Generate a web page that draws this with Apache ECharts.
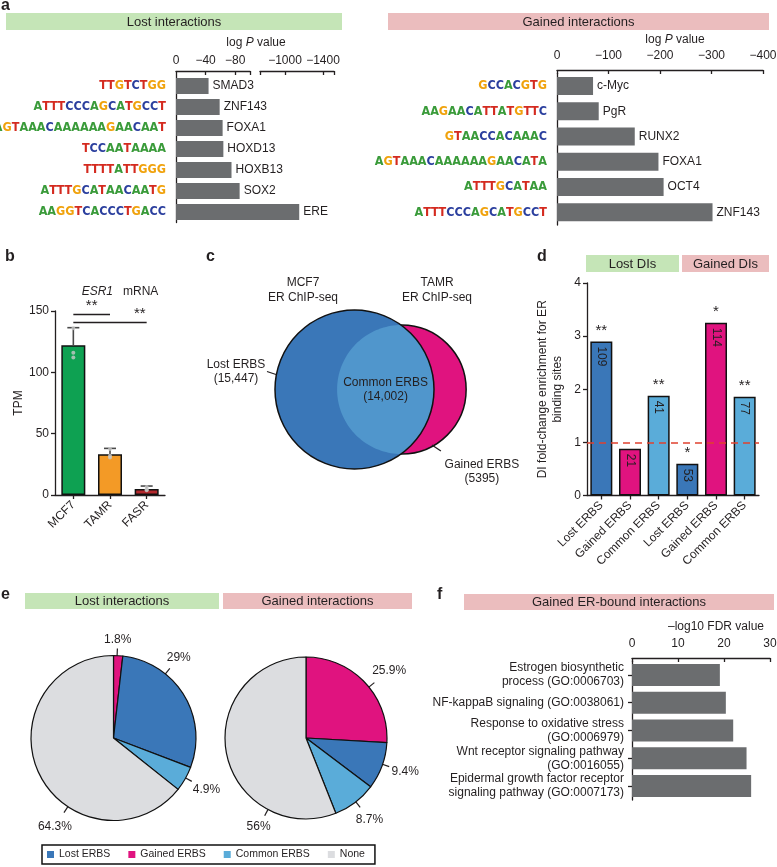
<!DOCTYPE html>
<html><head><meta charset="utf-8">
<script src="https://cdn.jsdelivr.net/npm/echarts@6/dist/echarts.min.js"></script>
<style>html,body{margin:0;padding:0;background:#fff}#c{width:777px;height:867px}</style>
</head><body><div id="c"></div>
<script>
// ================= DATA =================
// Panel a – motif enrichment (log P value)
const lostMotifs = ['SMAD3', 'ZNF143', 'FOXA1', 'HOXD13', 'HOXB13', 'SOX2', 'ERE'];
const lostLogos = ['TTGTCTGG', 'ATTTCCCAGCATGCCT', 'AGTAAACAAAAAAGAACAAT', 'TCCAATAAAA', 'TTTTATTGGG', 'ATTTGCATAACAATG', 'AAGGTCACCCTGACC'];
const lostLogP = [-44, -59, -63, -64, -75, -86, -1150];
const lostTickLabels1 = [0, -40, -80];
const lostTickLabels2 = [-1000, -1400];
const gainedMotifs = ['c-Myc', 'PgR', 'RUNX2', 'FOXA1', 'OCT4', 'ZNF143'];
const gainedLogos = ['GCCACGTG', 'AAGAACATTATGTTC', 'GTAACCACAAAC', 'AGTAAACAAAAAAGAACATA', 'ATTTGCATAA', 'ATTTCCCAGCATGCCT'];
const gainedLogP = [-70, -81, -151, -197, -207, -302];

// Panel b – ESR1 mRNA (TPM)
const cellLines = ['MCF7', 'TAMR', 'FASR'];
const esr1Mean = [122, 33.2, 4.9];
const esr1Err = [14.4, 4.8, 2.4];
const esr1Reps = [[136, 116, 112], [37.5, 32, 30.5], [6.6, 4.4, 3.8]];
const sigFrom = ['MCF7', 'MCF7'];
const sigTo = ['TAMR', 'FASR'];
const sigY = [147, 141];
const sigText = ['**', '**'];

// Panel c – Venn counts
const vennNames = ['Lost ERBS', 'Common ERBS', 'Gained ERBS'];
const vennCounts = [15447, 14002, 5395];

// Panel d – DI fold-change enrichment
const diGroups = ['Lost DIs', 'Lost DIs', 'Lost DIs', 'Gained DIs', 'Gained DIs', 'Gained DIs'];
const diErbs = ['Lost ERBS', 'Gained ERBS', 'Common ERBS', 'Lost ERBS', 'Gained ERBS', 'Common ERBS'];
const diFold = [2.9, 0.88, 1.88, 0.6, 3.25, 1.86];
const diCount = [109, 21, 41, 53, 114, 77];
const diSig = ['**', '', '**', '*', '*', '**'];

// Panel e – pies (clockwise from 12 o'clock)
const pieCats = ['Gained ERBS', 'Lost ERBS', 'Common ERBS', 'None'];
const pieLost = [1.8, 29, 4.9, 64.3];
const pieGained = [25.9, 9.4, 8.7, 56];
const legendCats = ['Lost ERBS', 'Gained ERBS', 'Common ERBS', 'None'];

// Panel f – GO terms
const goTerms = ['Estrogen biosynthetic\nprocess (GO:0006703)', 'NF-kappaB signaling (GO:0038061)', 'Response to oxidative stress\n(GO:0006979)', 'Wnt receptor signaling pathway\n(GO:0016055)', 'Epidermal growth factor receptor\nsignaling pathway (GO:0007173)'];
const goFdr = [19.1, 20.4, 22, 24.9, 25.9];

// ================= STYLE =================
const FF = '"Liberation Sans", Arial, Helvetica, sans-serif';
const INK = '#231f20';
const GREEN = '#c5e5b7', PINK = '#ebbdbe';
const GRAY = '#6b6d6f';
const ERBS_COLOR = { 'Lost ERBS': '#3a77b8', 'Gained ERBS': '#e0137f', 'Common ERBS': '#5aacd9', 'None': '#dcdde0' };
const CELL_COLOR = ['#0ea152', '#f39a26', '#b3282d'];
const LENS = '#5096cc';
const VENN = { cx: 94.5, cy: 159.5, scale: 0.4633 };
const LINE = { color: INK, width: 1.3 };
const LOGO_FONT = '"DejaVu Sans Condensed", "Liberation Sans Narrow", "Arial Narrow", sans-serif';
const LOGO_SIZE = 12.5;
const LOGO_RICH = {
  A: { color: '#3a9b3a', fontWeight: 'bold', fontSize: LOGO_SIZE, fontFamily: LOGO_FONT },
  C: { color: '#2b3f9e', fontWeight: 'bold', fontSize: LOGO_SIZE, fontFamily: LOGO_FONT },
  G: { color: '#f0a20c', fontWeight: 'bold', fontSize: LOGO_SIZE, fontFamily: LOGO_FONT },
  T: { color: '#d42a1f', fontWeight: 'bold', fontSize: LOGO_SIZE, fontFamily: LOGO_FONT }
};
// pie label tick angles (degrees clockwise from 12 o'clock), layout only
const PIE_LOST_GEOM = { center: [113.5, 738], radius: 82.5, labelAngles: [2.5, 39, 119, 213.6] };
const PIE_GAINED_GEOM = { center: [306, 738], radius: 81, labelAngles: [51, 109, 142, 208] };

const logo = s => s.split('').map(ch => '{' + ch + '|' + ch + '}').join('');
const minusFmt = v => (v === 0 ? '0' : '\u2212' + Math.abs(v));
const fmtCount = n => (n >= 10000 ? n.toLocaleString('en-US') : String(n));

function lensArea(r1, r2, d) {
  if (d >= r1 + r2) return 0;
  if (d <= Math.abs(r1 - r2)) return Math.PI * Math.min(r1, r2) ** 2;
  const t1 = r1 * r1 * Math.acos((d * d + r1 * r1 - r2 * r2) / (2 * d * r1));
  const t2 = r2 * r2 * Math.acos((d * d + r2 * r2 - r1 * r1) / (2 * d * r2));
  const t3 = 0.5 * Math.sqrt((-d + r1 + r2) * (d + r1 - r2) * (d - r1 + r2) * (d + r1 + r2));
  return t1 + t2 - t3;
}

function vennRender(params, api) {
  const lost = api.value(0), common = api.value(1), gained = api.value(2);
  const R1 = VENN.scale * Math.sqrt(lost + common);
  const R2 = VENN.scale * Math.sqrt(gained + common);
  const target = common / (lost + common) * Math.PI * R1 * R1;
  let lo = Math.abs(R1 - R2) + 1e-6, hi = R1 + R2;
  for (let i = 0; i < 80; i++) {
    const mid = (lo + hi) / 2;
    if (lensArea(R1, R2, mid) > target) lo = mid; else hi = mid;
  }
  const D = (lo + hi) / 2;
  const c1 = api.coord([VENN.cx, VENN.cy]);
  const c2 = api.coord([VENN.cx + D, VENN.cy]);
  const r1 = api.size([R1, 0])[0], r2 = api.size([R2, 0])[0];
  const dp = c2[0] - c1[0];
  const a = (dp * dp + r1 * r1 - r2 * r2) / (2 * dp);
  const h = Math.sqrt(r1 * r1 - a * a);
  const pts = [];
  const N = 80;
  const al = Math.atan2(h, a - dp);
  for (let i = 0; i <= N; i++) {
    const t = al + (2 * Math.PI - 2 * al) * i / N;
    pts.push([c2[0] + r2 * Math.cos(t), c2[1] + r2 * Math.sin(t)]);
  }
  const g = Math.atan2(-h, a);
  for (let i = 0; i <= N; i++) {
    const t = g + (-2 * g) * i / N;
    pts.push([c1[0] + r1 * Math.cos(t), c1[1] + r1 * Math.sin(t)]);
  }
  const txtStyle = (text, x, y, align) => ({ type: 'text', style: { text, x, y, align: align || 'center', verticalAlign: 'middle', fontSize: 12, lineHeight: 14, fill: INK, fontFamily: FF } });
  const lensCx = ((c2[0] - r2) + (c1[0] + r1)) / 2;
  const ang = 61 * Math.PI / 180;
  const gp = [c2[0] + r2 * Math.cos(ang), c2[1] + r2 * Math.sin(ang)];
  const lp = [c1[0] - r1, c1[1] - 15];
  return {
    type: 'group', children: [
      { type: 'circle', shape: { cx: c2[0], cy: c2[1], r: r2 }, style: { fill: ERBS_COLOR['Gained ERBS'], stroke: '#111', lineWidth: 1.5 } },
      { type: 'circle', shape: { cx: c1[0], cy: c1[1], r: r1 }, style: { fill: ERBS_COLOR['Lost ERBS'] } },
      { type: 'polygon', shape: { points: pts }, style: { fill: LENS } },
      { type: 'circle', shape: { cx: c1[0], cy: c1[1], r: r1 }, style: { fill: 'none', stroke: '#111', lineWidth: 1.5 } },
      txtStyle(vennNames[1] + '\n(' + fmtCount(common) + ')', lensCx, c1[1]),
      { type: 'line', shape: { x1: lp[0] - 8, y1: lp[1] - 3, x2: lp[0] + 1, y2: lp[1] }, style: { stroke: INK, lineWidth: 1.2 } },
      txtStyle(vennNames[0] + '\n(' + fmtCount(lost) + ')', lp[0] - 39, lp[1] - 3),
      { type: 'line', shape: { x1: gp[0] - 1, y1: gp[1] - 1, x2: gp[0] + 8, y2: gp[1] + 5 }, style: { stroke: INK, lineWidth: 1.2 } },
      txtStyle(vennNames[2] + '\n(' + fmtCount(gained) + ')', gp[0] + 49, gp[1] + 26)
    ]
  };
}

function errRender(params, api) {
  const x = api.value(0), m = api.value(1), e = api.value(2);
  const base = api.coord([x, m]);
  const top = api.coord([x, m + e]);
  const hw = 6;
  const st = { stroke: '#4a4a4a', lineWidth: 1.6 };
  return {
    type: 'group', children: [
      { type: 'line', shape: { x1: base[0], y1: base[1], x2: top[0], y2: top[1] }, style: st },
      { type: 'line', shape: { x1: top[0] - hw, y1: top[1], x2: top[0] + hw, y2: top[1] }, style: st }
    ]
  };
}

// pie labels: short radial tick at a chosen angle, label beyond it
function makePieLabelLayout(geom) {
  return function (p) {
    const deg = geom.labelAngles[p.dataIndex];
    const th = deg * Math.PI / 180;
    const dx = Math.sin(th), dy = -Math.cos(th);
    const c = geom.center, r = geom.radius;
    const s = [c[0] + dx * (r - 1), c[1] + dy * (r - 1)];
    const e = [c[0] + dx * (r + 7), c[1] + dy * (r + 7)];
    const w = p.labelRect.width, h = p.labelRect.height;
    const off = 0.5 * Math.abs(w * dx) + 0.5 * Math.abs(h * dy) + 2;
    return { x: e[0] + dx * off, y: e[1] + dy * off, align: 'center', verticalAlign: 'middle', labelLinePoints: [s, e, e] };
  };
}

// ---- graphic helpers ----
const txt = (x, y, text, o) => ({ type: 'text', x, y, silent: true, style: Object.assign({ text, fill: INK, fontSize: 12, fontFamily: FF, align: 'center', verticalAlign: 'middle' }, o || {}) });
const letter = (t, x, y) => txt(x, y, t, { fontSize: 16, fontWeight: 'bold', align: 'left', verticalAlign: 'top' });
const banner = (x, y, w, h, fill, t) => [
  { type: 'rect', silent: true, shape: { x, y, width: w, height: h }, style: { fill } },
  txt(x + w / 2, y + h / 2 + 0.5, t, { fontSize: 13 })
];
const RICH_IT = { n: { fontSize: 12, fontFamily: FF, fill: INK }, i: { fontSize: 12, fontFamily: FF, fontStyle: 'italic', fill: INK } };

const graphic = [].concat(
  letter('a', 1, -2), letter('b', 5, 249), letter('c', 206, 249), letter('d', 537, 249), letter('e', 1, 587), letter('f', 437, 587),
  banner(6, 13, 336, 17, GREEN, 'Lost interactions'),
  banner(388, 13, 381, 17, PINK, 'Gained interactions'),
  banner(586, 255, 93, 17, GREEN, 'Lost DIs'),
  banner(682, 255, 87, 17, PINK, 'Gained DIs'),
  banner(25, 593, 194, 16, GREEN, 'Lost interactions'),
  banner(223, 593, 189, 16, PINK, 'Gained interactions'),
  banner(464, 594, 310, 16, PINK, 'Gained ER-bound interactions'),
  [
    txt(256, 43, '{n|log }{i|P}{n| value}', { rich: RICH_IT }),
    txt(675, 40, '{n|log }{i|P}{n| value}', { rich: RICH_IT }),
    txt(120, 292, '{i|ESR1}{n|   mRNA}', { rich: RICH_IT }),
    txt(303, 283, 'MCF7'), txt(303, 298, 'ER ChIP-seq'),
    txt(437, 283, 'TAMR'), txt(437, 298, 'ER ChIP-seq'),
    txt(716, 627, '\u2013log10 FDR value')
  ]
);

// ================= OPTION =================
const G = o => Object.assign({ outerBoundsMode: 'none', containLabel: false }, o);
const pieSeries = (name, geom, values) => ({
  type: 'pie', name, center: geom.center, radius: geom.radius, startAngle: 90, clockwise: true, silent: true,
  avoidLabelOverlap: false,
  data: pieCats.map((c, i) => ({ name: c, value: values[i], itemStyle: { color: ERBS_COLOR[c] } })),
  itemStyle: { borderColor: '#111', borderWidth: 1.2 },
  label: { formatter: '{c}%', fontSize: 12, color: INK },
  labelLine: { length: 7, length2: 0, lineStyle: { color: INK, width: 1.2 } },
  labelLayout: makePieLabelLayout(geom)
});
const option = {
  animation: false,
  backgroundColor: '#fff',
  textStyle: { fontFamily: FF, color: INK },
  graphic,
  legend: {
    data: legendCats, left: 42, top: 845, icon: 'rect', itemWidth: 7, itemHeight: 7, itemGap: 18,
    padding: [4, 10, 4, 5], borderColor: '#111', borderWidth: 1.5, selectedMode: false,
    itemStyle: { borderWidth: 0 }, textStyle: { fontSize: 10.5, color: INK, fontFamily: FF }
  },
  grid: [
    G({ left: 176, top: 75.5, width: 74, height: 147 }),
    G({ left: 250, top: 75.5, width: 84, height: 147 }),
    G({ left: 260, top: 75.5, width: 74, height: 147 }),
    G({ left: 557, top: 73.4, width: 206, height: 151.6 }),
    G({ left: 55, top: 311, width: 110, height: 184 }),
    G({ left: 587, top: 283, width: 172, height: 212.5 }),
    G({ left: 632, top: 661, width: 138, height: 139 }),
    G({ left: 260, top: 230, width: 260, height: 260 })
  ],
  xAxis: [
    { gridIndex: 0, type: 'value', position: 'top', offset: 4.5, inverse: true, min: -100, max: 0,
      axisLine: { show: true, lineStyle: LINE },
      axisTick: { show: true, inside: true, length: 4, customValues: [0, -40, -80, -100], lineStyle: LINE },
      axisLabel: { customValues: lostTickLabels1, formatter: minusFmt, margin: 4, fontSize: 12, color: INK, hideOverlap: false },
      splitLine: { show: false } },
    { gridIndex: 1, type: 'value', show: false, inverse: true, min: -1516, max: -632, splitLine: { show: false } },
    { gridIndex: 2, type: 'value', position: 'top', offset: 4.5, inverse: true, min: -1516, max: -737,
      axisLine: { show: true, lineStyle: LINE },
      axisTick: { show: true, inside: true, length: 4, customValues: [-737, -1000, -1400, -1516], lineStyle: LINE },
      axisLabel: { customValues: lostTickLabels2, formatter: minusFmt, margin: 4, fontSize: 12, color: INK },
      splitLine: { show: false } },
    { gridIndex: 3, type: 'value', position: 'top', offset: 3.4, inverse: true, min: -400, max: 0, interval: 100,
      axisLine: { show: true, lineStyle: LINE },
      axisTick: { show: true, inside: true, length: 4, lineStyle: LINE },
      axisLabel: { formatter: minusFmt, margin: 8, fontSize: 12, color: INK },
      splitLine: { show: false } },
    { gridIndex: 4, type: 'category', data: cellLines,
      axisLine: { show: true, lineStyle: LINE },
      axisTick: { show: true, alignWithLabel: true, length: 4, lineStyle: LINE },
      axisLabel: { rotate: 45, fontSize: 12, color: INK, margin: 8 } },
    { gridIndex: 5, type: 'category', data: diGroups.map((g, i) => g + ':' + diErbs[i]),
      axisLine: { show: true, lineStyle: LINE },
      axisTick: { show: true, alignWithLabel: true, length: 4, lineStyle: LINE },
      axisLabel: { rotate: 45, fontSize: 12, color: INK, margin: 8, interval: 0, formatter: (v, i) => diErbs[i] } },
    { gridIndex: 6, type: 'value', position: 'top', offset: 3, min: 0, max: 30, interval: 10,
      axisLine: { show: true, lineStyle: LINE },
      axisTick: { show: true, inside: true, length: 4, lineStyle: LINE },
      axisLabel: { margin: 8, fontSize: 12, color: INK },
      splitLine: { show: false } },
    { gridIndex: 7, type: 'value', show: false, min: 0, max: 260, splitLine: { show: false } }
  ],
  yAxis: [
    { gridIndex: 0, type: 'category', data: lostMotifs, inverse: true,
      axisLine: { show: true, lineStyle: LINE }, axisTick: { show: false },
      axisLabel: { margin: 10, formatter: (v, i) => logo(lostLogos[i]), rich: LOGO_RICH } },
    { gridIndex: 1, type: 'category', data: lostMotifs, inverse: true, show: false },
    { gridIndex: 2, type: 'category', data: lostMotifs, inverse: true, show: false },
    { gridIndex: 3, type: 'category', data: gainedMotifs, inverse: true,
      axisLine: { show: true, lineStyle: LINE }, axisTick: { show: false },
      axisLabel: { margin: 10, formatter: (v, i) => logo(gainedLogos[i]), rich: LOGO_RICH } },
    { gridIndex: 4, type: 'value', min: 0, max: 150, interval: 50, name: 'TPM', nameLocation: 'middle', nameGap: 30,
      nameTextStyle: { fontSize: 12, color: INK },
      axisLine: { show: true, lineStyle: LINE }, axisTick: { show: true, length: 4, lineStyle: LINE },
      axisLabel: { fontSize: 12, color: INK, margin: 6 }, splitLine: { show: false } },
    { gridIndex: 5, type: 'value', min: 0, max: 4, interval: 1,
      name: 'DI fold-change enrichment for ER\nbinding sites', nameLocation: 'middle', nameGap: 22,
      nameTextStyle: { fontSize: 12, lineHeight: 15, color: INK },
      axisLine: { show: true, lineStyle: LINE }, axisTick: { show: true, length: 4, lineStyle: LINE },
      axisLabel: { fontSize: 12, color: INK, margin: 6 }, splitLine: { show: false } },
    { gridIndex: 6, type: 'category', data: goTerms, inverse: true,
      axisLine: { show: true, lineStyle: LINE }, axisTick: { show: true, alignWithLabel: true, length: 4, lineStyle: LINE },
      axisLabel: { fontSize: 12, lineHeight: 14, color: INK, margin: 8 } },
    { gridIndex: 7, type: 'value', show: false, inverse: true, min: 0, max: 260, splitLine: { show: false } }
  ],
  series: [
    // a – lost, first axis segment
    { type: 'bar', name: 'aLost1', xAxisIndex: 0, yAxisIndex: 0, barWidth: 16, silent: true,
      itemStyle: { color: GRAY },
      data: lostLogP.map(v => ({ value: v, label: { show: v >= -100 } })),
      label: { position: 'right', distance: 4, formatter: '{b}', fontSize: 12, color: INK } },
    // a – lost, second (broken) axis segment
    { type: 'bar', name: 'aLost2', xAxisIndex: 1, yAxisIndex: 1, barWidth: 16, silent: true,
      itemStyle: { color: GRAY },
      data: lostLogP.map(v => ({ value: v, label: { show: v < -100 } })),
      label: { position: 'right', distance: 4, formatter: '{b}', fontSize: 12, color: INK } },
    // a – gained
    { type: 'bar', name: 'aGained', xAxisIndex: 3, yAxisIndex: 3, barWidth: 18, silent: true,
      itemStyle: { color: GRAY }, data: gainedLogP,
      label: { show: true, position: 'right', distance: 4, formatter: '{b}', fontSize: 12, color: INK } },
    // b – bars
    { type: 'bar', name: 'bMean', xAxisIndex: 4, yAxisIndex: 4, barWidth: 24, silent: true,
      data: esr1Mean.map((v, i) => ({ value: v, itemStyle: { color: CELL_COLOR[i] } })),
      itemStyle: { borderColor: '#111', borderWidth: 1.5 },
      markLine: {
        silent: true, symbol: 'none', lineStyle: { color: INK, width: 1.3, type: 'solid' },
        data: sigY.map((y, i) => [
          { coord: [sigFrom[i], y], label: { show: true, formatter: sigText[i], position: i === 0 ? 'middle' : 'insideEndTop', fontSize: 15, color: INK, distance: 1 } },
          { coord: [sigTo[i], y] }
        ])
      } },
    // b – error bars
    { type: 'custom', name: 'bErr', xAxisIndex: 4, yAxisIndex: 4, silent: true, z: 3,
      data: esr1Mean.map((m, i) => [i, m, esr1Err[i]]), renderItem: errRender },
    // b – replicates
    { type: 'scatter', name: 'bReps', xAxisIndex: 4, yAxisIndex: 4, silent: true, z: 4, symbolSize: 4,
      itemStyle: { color: '#c8c8c8' },
      data: esr1Reps.flatMap((arr, i) => arr.map(v => [i, v])) },
    // c – Venn
    { type: 'custom', name: 'venn', xAxisIndex: 7, yAxisIndex: 7, silent: true,
      data: [vennCounts], renderItem: vennRender },
    // d – fold change bars
    { type: 'bar', name: 'dFold', xAxisIndex: 5, yAxisIndex: 5, barWidth: 22, silent: true,
      data: diFold.map((v, i) => ({ value: v, itemStyle: { color: ERBS_COLOR[diErbs[i]] } })),
      itemStyle: { borderColor: '#111', borderWidth: 1.5 },
      label: { show: true, position: 'top', distance: 3, fontSize: 15, color: INK, formatter: p => diSig[p.dataIndex] },
      markLine: { silent: true, symbol: 'none', label: { show: false },
        lineStyle: { color: '#e0412f', type: [7, 5], width: 1.5 }, data: [{ yAxis: 1 }] } },
    // d – count labels
    { type: 'bar', name: 'dCount', xAxisIndex: 5, yAxisIndex: 5, barWidth: 22, barGap: '-100%', silent: true, z: 5,
      itemStyle: { color: 'rgba(0,0,0,0)' }, data: diFold,
      label: { show: true, position: 'insideTop', distance: 5, rotate: -90, align: 'left', verticalAlign: 'middle',
        fontSize: 12, color: INK, formatter: p => String(diCount[p.dataIndex]) } },
    // e – pies
    pieSeries('eLost', PIE_LOST_GEOM, pieLost),
    pieSeries('eGained', PIE_GAINED_GEOM, pieGained),
    // f – GO bars
    { type: 'bar', name: 'fGo', xAxisIndex: 6, yAxisIndex: 6, barWidth: 22, silent: true,
      itemStyle: { color: GRAY }, data: goFdr }
  ]
};

const chart = echarts.init(document.getElementById('c'), null, { renderer: 'canvas', width: 777, height: 867 });
chart.setOption(option);
</script>
</body></html>
